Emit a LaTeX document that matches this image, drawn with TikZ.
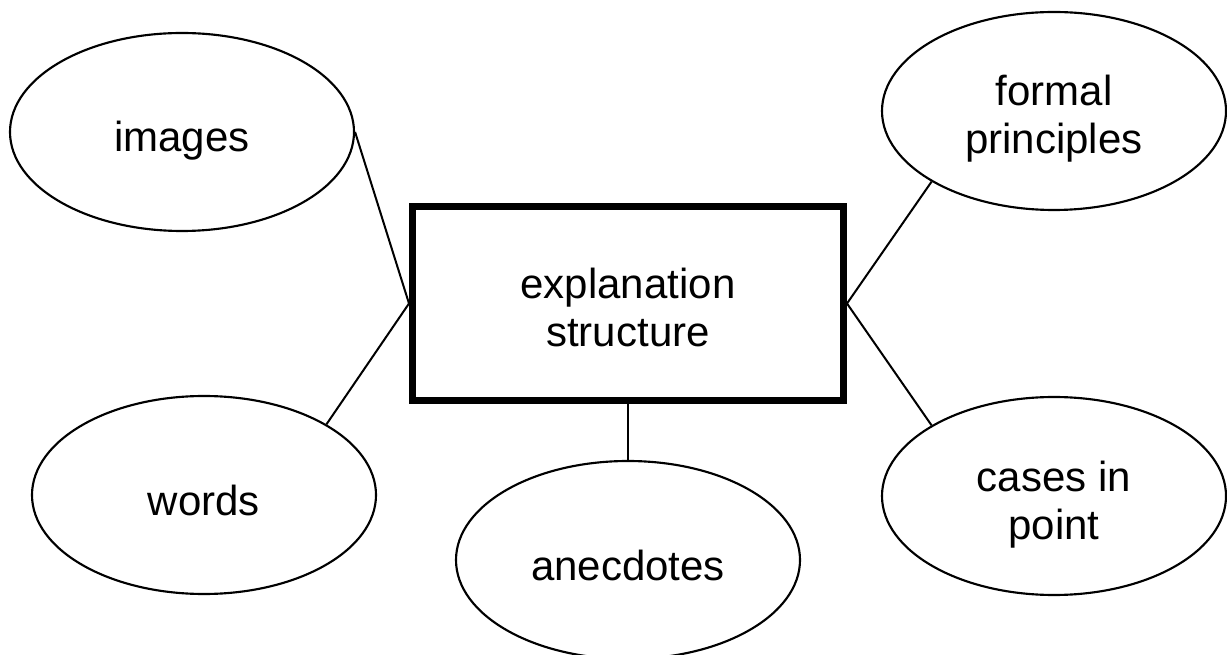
\documentclass[tikz,border=0pt]{standalone}
\usepackage{fontspec}
\setmainfont{Liberation Sans}
\usetikzlibrary{shapes.geometric}

\tikzset{
    bubble/.style={ellipse, draw, line width=1.6pt, minimum width=258pt, minimum height=148.5pt, inner sep=0pt, align=center, font=\fontsize{31.5pt}{36pt}\selectfont},
    oneline/.style={text height=36pt, text depth=6pt},
    twoline/.style={text height=70pt, text depth=5.5pt},
    mainbox/.style={rectangle, draw, line width=5.25pt, minimum width=323.25pt, minimum height=145.5pt, align=center, font=\fontsize{31.5pt}{36pt}\selectfont},
    spoke/.style={line width=1.5pt}
}

\begin{document}
\begin{tikzpicture}[x=0.75pt,y=0.75pt,yscale=-1,xscale=1]

    \useasboundingbox (0,0) rectangle (1227,655);

        \node [mainbox, twoline] (expl) at (628,303.5) {explanation\\structure};

        \node [bubble, oneline] (images) at (182,132) {images};
        \node [bubble, oneline] (words) at (204,495) {words};
        \node [bubble, oneline] (anecdotes) at (628,560) {anecdotes};
        \node [bubble, twoline] (formal) at (1054,111) {formal\\principles};
        \node [bubble, twoline] (cases) at (1054,496) {cases in\\point};

        \draw [spoke] (images.east) -- (expl.west);
        \draw [spoke] (words.30) -- (expl.west);
        \draw [spoke] (anecdotes.north) -- (expl.south);
        \draw [spoke] (formal.210) -- (expl.east);
        \draw [spoke] (cases.150) -- (expl.east);

\end{tikzpicture}
\end{document}
